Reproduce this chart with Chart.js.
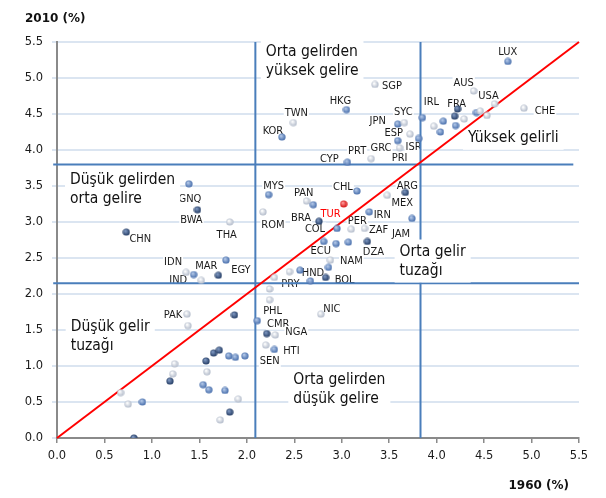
<!DOCTYPE html>
<html>
<head>
<meta charset="utf-8">
<script src="https://cdn.jsdelivr.net/npm/chart.js@4.4.1/dist/chart.umd.min.js"></script>
<style>
  html, body { margin: 0; padding: 0; background: #fff; }
  #wrap { width: 606px; height: 498px; position: relative; }
</style>
</head>
<body>
<div id="wrap"><canvas id="myChart"></canvas></div>
<script>
// country codes ('' = unlabelled point)
const names = ['LUX','AUS','USA','CHE','IRL','','','','FRA','','','','','','','ISR',
  'SGP','HKG','TWN','KOR','JPN','SYC','ESP','GRC','PRI','PRT','CYP',
  'MYS','ROM','PAN','','CHL','TUR','BRA','COL','PER','ZAF','IRN','ARG','MEX','JAM',
  'ECU','','','DZA','NAM','','HND','','BOL','','PRY','','PHL',
  'GNQ','BWA','THA','CHN','IDN','','IND','MAR','EGY',
  'PAK','','','CMR','','NGA','SEN','HTI','NIC',
  '','','','','','','','','','','','','','','','','','','',''];
// growth 1960 (x) and 2010 (y), %
const x1960 = [4.75,4.39,4.61,4.92,3.85,3.97,4.07,4.04,4.19,4.22,4.20,4.29,4.42,4.46,4.53,3.81,
  3.35,3.05,2.49,2.37,3.59,3.66,3.59,3.72,3.61,3.31,3.06,
  2.23,2.17,2.63,2.70,3.16,3.02,2.76,2.95,3.10,3.24,3.29,3.67,3.48,3.74,
  2.81,2.94,3.07,3.27,2.88,2.86,2.56,2.45,2.83,2.67,2.29,2.24,2.24,
  1.39,1.48,1.82,0.73,1.36,1.44,1.52,1.70,1.78,
  1.37,1.38,1.87,2.11,2.21,2.30,2.20,2.29,2.78,
  1.65,1.71,1.81,1.88,1.98,1.57,1.58,1.24,1.22,1.19,1.54,1.60,1.77,1.91,1.82,1.72,0.67,0.75,0.90,0.81];
const y2010 = [5.23,4.82,4.64,4.58,4.45,4.33,4.40,4.25,4.47,4.57,4.34,4.43,4.52,4.54,4.48,4.16,
  4.91,4.56,4.38,4.18,4.36,4.38,4.13,4.22,4.03,3.88,3.83,
  3.38,3.14,3.29,3.24,3.43,3.25,3.01,2.91,2.90,2.91,3.14,3.41,3.37,3.05,
  2.73,2.70,2.72,2.73,2.47,2.37,2.33,2.31,2.23,2.18,2.23,2.07,1.92,
  3.53,3.17,3.00,2.86,2.30,2.27,2.19,2.26,2.47,
  1.72,1.56,1.71,1.63,1.45,1.43,1.29,1.23,1.72,
  1.18,1.22,1.14,1.12,1.14,1.07,0.92,1.03,0.89,0.79,0.74,0.67,0.66,0.54,0.36,0.25,0.63,0.47,0.50,0.00];
const tickValues = [0,0.5,1,1.5,2,2.5,3,3.5,4,4.5,5,5.5];
const xSplits = [2.09, 3.83];
const ySplits = [3.80, 2.15];
const diagonal = [0, 5.5];

// marker shade per point: d dark, m medium, l light, r Turkey
const shade = ['m','l','l','l','m','l','m','m','d','d','m','l','m','l','l','m',
  'l','m','l','m','m','l','m','l','l','l','m',
  'm','l','l','m','m','r','d','m','l','l','m','d','l','m',
  'm','m','m','d','l','m','m','l','d','m','l','l','l',
  'm','d','l','d','l','m','l','d','m',
  'l','l','d','m','d','l','l','m','l',
  'd','d','m','m','m','d','l','l','l','d','m','m','m','l','d','l','l','l','m','d'];

const labelShift = {
  LUX:[0,-10], AUS:[-10,-8], USA:[-6,-8], CHE:[21,2], IRL:[9,-16], FRA:[2,-13], SGP:[17,1],
  HKG:[-6,-9], TWN:[3,-10], KOR:[-9,-6], SYC:[-1,-11], JPN:[-20,-3], ESP:[-4,-8], ISR:[-5,8],
  GRC:[-29,13], PRI:[0,10], PRT:[-14,-8], CYP:[-18,-4], MYS:[5,-9], PAN:[-3,-8], ROM:[10,13],
  CHL:[-14,-4], TUR:[-13,10], BRA:[-18,-4], COL:[-22,0], PER:[6,-9], ZAF:[14,1], IRN:[13,3],
  ARG:[2,-7], MEX:[15,7], JAM:[-11,15], ECU:[-3,9], DZA:[6,10], NAM:[21,0], HND:[13,2],
  BOL:[19,2], PRY:[16,6], PHL:[3,11], CMR:[21,3], NGA:[21,-3], HTI:[17,1], SEN:[4,16],
  NIC:[11,-6], PAK:[-14,0], IDN:[-13,-11], MAR:[-12,-10], EGY:[15,9], IND:[-23,-1],
  GNQ:[1,15], BWA:[-6,10], THA:[-3,13], CHN:[14,7]
};

// quadrant captions: [lines, x, y of first line]
const regions = [
  [['Orta gelirden','yüksek gelire'], 2.20, 5.36],
  [['Düşük gelirden','orta gelire'], 0.137, 3.59],
  [['Yüksek gelirli'], 4.33, 4.17],
  [['Orta gelir','tuzağı'], 3.61, 2.59],
  [['Düşük gelir','tuzağı'], 0.144, 1.54],
  [['Orta gelirden','düşük gelire'], 2.49, 0.81]
];

const FONT = '"DejaVu Sans Condensed", "DejaVu Sans", sans-serif';

function sphere(c0, c1) {
  const cv = document.createElement('canvas');
  cv.width = cv.height = 8;
  const g = cv.getContext('2d');
  const grad = g.createRadialGradient(3, 2.8, 0.4, 4, 4, 4);
  grad.addColorStop(0, c0);
  grad.addColorStop(1, c1);
  g.fillStyle = grad;
  g.beginPath();
  g.arc(4, 4, 3.6, 0, Math.PI * 2);
  g.fill();
  return cv;
}
const sprites = {
  d: sphere('#7e97c0', '#1b335b'),
  m: sphere('#b3c8e8', '#3b64a5'),
  l: sphere('#ffffff', '#a9b3c4'),
  r: sphere('#ff9a9a', '#d00000')
};

const pts = x1960.map((x, i) => ({x: x, y: y2010[i]}));

const countryLabels = {
  id: 'countryLabels',
  beforeDatasetsDraw(chart) {
    const c = chart.ctx, xs = chart.scales.x, ys = chart.scales.y;
    c.save();
    c.font = '11px ' + FONT;
    c.textAlign = 'center';
    c.textBaseline = 'middle';
    names.forEach((n, i) => {
      if (!n) return;
      const s = labelShift[n] || [0, -10];
      const px = xs.getPixelForValue(x1960[i]) + s[0];
      const py = ys.getPixelForValue(y2010[i]) + s[1];
      const w = c.measureText(n).width;
      c.fillStyle = '#fff';
      c.fillRect(px - w / 2 - 1, py - 6, w + 2, 12);
      c.fillStyle = n === 'TUR' ? '#ff0000' : '#1a1a1a';
      c.fillText(n, px, py + 0.5);
    });
    c.restore();
  },
  afterDatasetDraw(chart, args) {
    if (args.index !== 2) return;
    const c = chart.ctx, xs = chart.scales.x, ys = chart.scales.y;
    c.save();
    c.font = '15.5px ' + FONT;
    c.textAlign = 'left';
    c.textBaseline = 'middle';
    regions.forEach(r => {
      const lx = xs.getPixelForValue(r[1]);
      const ly = ys.getPixelForValue(r[2]);
      const w = Math.max(...r[0].map(t => c.measureText(t).width));
      c.fillStyle = '#fff';
      c.fillRect(lx - 5, ly - 12, w + 10, 19 * (r[0].length - 1) + 24);
      c.fillStyle = '#111';
      r[0].forEach((t, k) => c.fillText(t, lx, ly + 19 * k));
    });
    c.restore();
  },
  afterDraw(chart) {
    const c = chart.ctx, a = chart.chartArea;
    c.save();
    c.font = 'bold 12px "DejaVu Sans", sans-serif';
    c.fillStyle = '#111';
    c.textBaseline = 'middle';
    c.textAlign = 'left';
    c.fillText('2010 (%)', a.left - 32, 18.5);
    c.textAlign = 'right';
    c.fillText('1960 (%)', a.right - 10, 486);
    c.restore();
  }
};

const lineDs = (data, color) => ({
  type: 'scatter', data: data, showLine: true, borderColor: color, borderWidth: 2,
  pointRadius: 0, fill: false, clip: false
});

const ctx = document.getElementById('myChart').getContext('2d');
const myChart = new Chart(ctx, {
  type: 'scatter',
  data: {
    datasets: [
      {
        data: pts,
        pointStyle: shade.map(s => sprites[s]),
        pointRadius: 4,
        clip: 0
      },
      lineDs([{x: diagonal[0], y: diagonal[0]}, {x: diagonal[1], y: diagonal[1]}], '#ff0000'),
      lineDs([{x: xSplits[0], y: 0}, {x: xSplits[0], y: 5.5}], '#4a7ebb'),
      lineDs([{x: xSplits[1], y: 0}, {x: xSplits[1], y: 5.5}], '#4a7ebb'),
      lineDs([{x: -0.04, y: ySplits[0]}, {x: 5.44, y: ySplits[0]}], '#4a7ebb'),
      lineDs([{x: -0.04, y: ySplits[1]}, {x: 5.5, y: ySplits[1]}], '#4a7ebb')
    ]
  },
  options: {
    responsive: true,
    maintainAspectRatio: false,
    animation: false,
    events: [],
    layout: { padding: { top: 42, right: 27, left: 0, bottom: 0 } },
    plugins: { legend: { display: false }, tooltip: { enabled: false } },
    scales: {
      x: {
        type: 'linear', min: 0, max: 5.5,
        afterBuildTicks: s => { s.ticks = tickValues.map(v => ({value: v})); },
        afterFit: s => { s.height = 60; },
        grid: { drawOnChartArea: false, drawTicks: true, tickLength: 5, color: '#8a8a8a', lineWidth: 1.5 },
        border: { color: '#8a8a8a', width: 2 },
        ticks: { padding: 6, color: '#1a1a1a', font: { family: '"DejaVu Sans", sans-serif', size: 11.5 },
                 maxRotation: 0, callback: v => v.toFixed(1) }
      },
      y: {
        type: 'linear', min: 0, max: 5.5,
        afterBuildTicks: s => { s.ticks = tickValues.map(v => ({value: v})); },
        afterFit: s => { s.width = 57; },
        grid: { color: '#dbe5f1', lineWidth: 2, tickLength: 5 },
        border: { color: '#8a8a8a', width: 2 },
        ticks: { padding: 9, color: '#1a1a1a', font: { family: '"DejaVu Sans", sans-serif', size: 11.5 },
                 callback: v => v.toFixed(1) }
      }
    }
  },
  plugins: [countryLabels]
});
</script>
</body>
</html>
